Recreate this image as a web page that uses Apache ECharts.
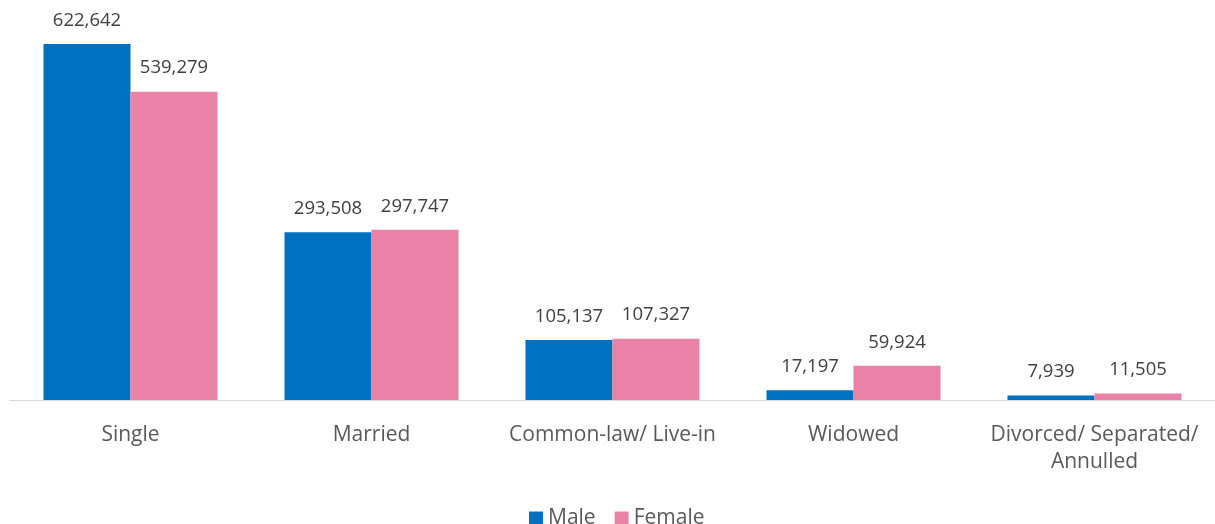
<!DOCTYPE html>
<html>
<head>
<meta charset="utf-8">
<script src="https://cdn.jsdelivr.net/npm/echarts@6/dist/echarts.min.js"></script>
<style>
  html, body { margin: 0; padding: 0; background: #fff; }
  #chart { width: 1215px; height: 524px; }
</style>
</head>
<body>
<div id="chart"></div>
<script>
const categories = ["Single", "Married", "Common-law/ Live-in", "Widowed", "Divorced/ Separated/\nAnnulled"];
const male = [622642, 293508, 105137, 17197, 7939];
const female = [539279, 297747, 107327, 59924, 11505];

const font = "'Open Sans', 'Noto Sans', sans-serif";

const labelStyle = {
  show: true,
  position: "top",
  distance: 14,
  color: "#404040",
  fontSize: 18.5,
  fontFamily: font,
  formatter: p => p.value.toLocaleString("en-US")
};

const chart = echarts.init(document.getElementById("chart"));
chart.setOption({
  animation: false,
  grid: { left: 10, right: 0, top: 44, bottom: 124 },
  legend: {
    top: 503,
    left: 524,
    itemWidth: 14,
    itemHeight: 14,
    itemGap: 19,
    icon: "rect",
    textStyle: { color: "#595959", fontSize: 21, fontFamily: font },
    data: ["Male", "Female"]
  },
  xAxis: {
    type: "category",
    data: categories,
    axisLine: { lineStyle: { color: "#d9d9d9", width: 1 } },
    axisTick: { show: false },
    axisLabel: {
      color: "#595959",
      fontSize: 21,
      fontFamily: font,
      margin: 22,
      lineHeight: 27,
      interval: 0
    }
  },
  yAxis: {
    type: "value",
    min: 0,
    max: 622642,
    show: false,
    splitLine: { show: false }
  },
  series: [
    {
      name: "Male",
      type: "bar",
      data: male,
      barWidth: 87,
      barGap: "0%",
      itemStyle: { color: "#0070c0" },
      label: labelStyle
    },
    {
      name: "Female",
      type: "bar",
      data: female,
      barWidth: 87,
      itemStyle: { color: "#ea82a8" },
      label: labelStyle
    }
  ]
});
</script>
</body>
</html>
